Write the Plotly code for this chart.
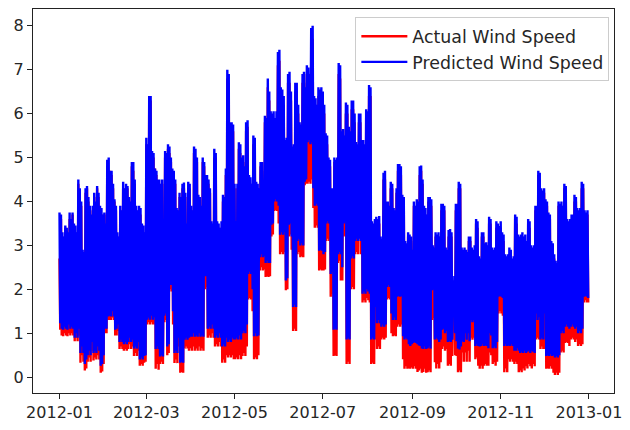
import pandas as pd
import plotly.graph_objects as go

# Daily maxima / minima (one row per month, 2012)
pred_hi = [
    3.75,3.7,3.3,3.2,3.45,3.4,3.3,3.75,3.6,3.75,3.5,3.45,3.3,4.5,4.3,4.0,2.9,2.85,4.3,4.35,4.1,3.9,3.7,3.9,4.2,4.0,4.35,4.2,3.9,3.85,3.7,
    3.75,3.5,4.95,5.0,4.7,4.7,4.4,4.05,3.9,3.3,3.2,3.9,3.8,4.45,4.3,4.4,4.35,4.1,4.0,4.9,4.9,4.5,3.9,3.8,3.9,3.85,3.5,3.45,3.3,
    5.45,5.3,6.4,6.4,5.15,5.1,4.75,4.7,4.5,4.5,4.4,4.5,3.25,5.15,5.1,5.3,5.25,5.0,4.75,4.7,4.5,3.85,3.8,4.2,4.1,4.4,4.43,4.2,3.5,4.45,4.4,
    3.9,3.8,5.25,5.2,5.0,4.15,4.1,3.9,5.0,4.9,4.6,4.6,4.5,4.3,3.55,3.5,5.2,5.1,3.55,3.5,3.4,3.55,4.15,4.1,4.75,7.0,6.9,5.8,5.8,5.75,
    4.4,3.55,4.4,5.35,5.3,5.0,5.05,4.8,5.8,5.85,4.6,4.55,4.4,5.5,5.45,4.45,4.4,4.3,4.9,4.9,4.3,5.95,5.9,6.8,6.5,6.05,6.0,6.05,5.9,6.05,7.4,
    7.45,6.6,6.55,6.4,5.4,5.45,6.9,6.95,6.5,5.25,5.3,6.7,6.7,6.2,5.8,5.75,6.9,6.95,6.6,7.1,7.05,6.9,7.95,8.0,6.4,6.35,6.2,6.6,6.55,6.6,
    6.5,6.2,5.55,5.5,5.0,4.95,4.3,4.3,5.0,4.95,5.0,7.15,7.1,5.6,5.65,5.5,6.25,6.2,5.7,5.6,6.3,6.3,6.0,5.35,5.3,6.0,6.0,5.4,5.4,5.3,6.1,
    6.05,6.65,6.6,3.55,3.5,3.6,3.65,3.6,3.67,3.2,3.15,4.65,4.7,4.0,4.0,3.9,4.45,4.4,3.85,3.8,4.3,4.85,4.85,4.8,4.15,4.1,3.1,3.05,3.3,3.25,3.2,
    2.9,4.0,3.9,4.05,4.0,4.8,4.82,4.5,3.9,3.85,3.7,4.1,4.1,4.05,3.0,2.95,3.3,3.25,3.3,3.2,3.95,3.95,3.9,2.95,2.9,3.35,3.37,3.3,2.2,2.3,
    3.95,3.95,4.45,4.4,2.95,2.9,2.95,2.9,2.85,3.2,3.2,2.95,2.9,3.0,3.6,3.55,2.75,2.7,3.3,3.3,3.05,3.07,3.0,3.65,3.6,2.95,2.9,2.95,3.55,3.5,3.44,
    3.55,3.3,3.25,2.8,2.75,2.8,2.95,2.9,2.7,2.75,3.7,3.65,3.25,3.2,3.25,3.3,3.2,3.25,3.1,3.6,3.55,3.0,2.95,3.0,3.9,3.9,4.7,4.65,4.3,4.25,
    4.3,4.05,4.0,3.75,3.7,3.1,3.05,2.8,2.65,2.6,4.0,3.95,4.0,3.9,4.4,4.35,3.6,3.55,3.6,3.7,3.7,4.15,4.1,3.85,3.8,3.85,4.45,4.4,3.8,3.75,3.8,
]
pred_lo = [
    1.23,1.1,1.08,1.15,1.1,1.08,1.2,1.1,1.15,1.1,0.9,1.0,0.9,1.1,0.55,0.7,0.55,0.3,0.4,0.5,0.6,0.5,0.8,0.55,0.6,0.55,0.7,0.6,0.26,0.3,0.5,
    1.1,1.1,1.38,1.4,1.38,1.5,1.38,1.08,1.1,1.2,0.8,0.85,0.8,0.75,0.8,0.75,0.8,0.9,0.8,0.85,0.65,0.7,0.65,0.8,0.4,0.45,0.4,0.48,0.5,
    1.31,1.35,1.31,1.4,1.31,1.35,0.64,0.7,0.64,0.47,0.5,0.47,1.4,1.45,0.7,0.75,2.1,2.1,1.5,0.55,0.6,0.55,0.9,0.33,0.35,0.33,0.85,0.9,0.85,0.9,0.92,
    0.92,1.0,0.92,0.95,0.92,1.0,0.92,0.95,0.92,2.3,2.3,1.1,1.15,1.1,1.2,1.1,0.9,0.95,0.9,1.0,0.9,0.7,0.75,0.7,0.9,0.8,0.85,0.8,0.9,0.86,
    0.86,0.9,0.86,0.95,0.86,1.0,1.05,1.0,1.2,2.35,2.4,2.35,2.0,0.93,1.0,0.93,0.95,2.73,2.8,2.73,2.75,2.6,2.65,2.6,2.6,3.47,3.5,4.0,4.05,4.0,3.9,
    3.24,3.3,3.24,3.3,2.2,2.25,3.47,3.5,3.2,1.6,1.65,1.6,3.1,3.15,3.0,3.05,3.0,4.45,4.5,5.35,5.4,5.3,5.35,4.3,3.9,3.95,3.9,2.88,2.9,2.88,
    2.8,2.85,3.5,3.55,3.5,2.35,2.4,1.08,1.1,1.08,2.8,2.85,2.8,2.5,3.5,3.55,0.86,0.9,0.86,2.7,2.75,2.7,3.1,3.15,3.1,3.15,3.1,1.9,1.95,1.9,2.0,
    1.95,1.9,0.86,0.9,0.86,1.6,1.23,1.3,1.23,1.15,1.2,1.15,1.2,2.05,2.1,2.05,1.45,1.3,1.35,1.3,1.83,1.85,1.83,1.85,0.93,0.86,0.9,0.86,0.75,0.71,0.75,
    0.78,0.8,0.78,0.75,0.72,0.71,0.65,0.64,0.7,0.64,0.66,0.7,0.65,1.98,2.0,0.86,0.9,0.86,0.8,0.86,1.08,1.1,1.0,1.05,0.8,0.82,0.8,0.85,1.6,1.0,
    0.82,0.65,0.63,0.7,0.82,0.8,1.0,0.85,1.0,0.82,1.3,1.25,1.3,0.71,0.75,0.71,0.7,0.71,0.75,0.71,0.72,0.71,0.66,1.0,0.95,0.66,0.7,0.66,0.8,1.83,1.85,
    1.83,1.8,0.71,0.75,0.71,0.72,0.71,0.75,0.71,0.6,0.6,0.65,0.6,0.55,0.58,0.55,0.6,0.55,0.58,0.6,0.55,0.6,0.58,0.55,1.45,1.3,1.35,0.86,0.9,0.86,
    1.45,0.48,0.5,0.48,0.52,0.48,0.5,0.45,0.48,0.45,0.5,1.0,1.05,1.0,1.15,1.2,1.15,1.1,1.15,1.2,1.15,1.1,1.15,1.0,1.05,1.0,1.1,1.83,1.85,1.83,1.8,
]
act_hi = [
    2.7,3.6,3.2,3.1,3.4,3.3,3.2,3.6,3.5,3.7,3.4,3.3,3.2,4.4,4.2,3.9,2.8,2.7,4.2,4.3,4.0,3.8,3.6,3.8,4.1,3.9,4.3,4.1,3.8,3.7,3.6,
    3.7,3.4,4.8,4.7,4.7,4.6,4.3,4.0,3.8,3.2,3.1,3.8,3.7,4.3,4.2,4.3,4.3,4.0,3.9,4.8,4.7,4.4,3.8,3.7,3.8,3.7,3.4,3.3,3.2,
    5.3,5.2,6.2,6.3,5.0,5.0,4.75,4.6,4.4,4.4,4.3,4.4,3.1,5.0,5.0,5.2,5.1,4.9,4.6,4.6,4.4,3.7,3.7,4.1,4.0,4.3,4.3,4.1,3.4,4.3,4.3,
    3.8,3.7,5.1,5.0,4.9,4.0,4.0,3.8,4.9,4.8,4.5,4.5,4.4,4.2,3.4,3.4,5.0,5.0,3.4,3.4,3.3,3.4,4.0,4.0,4.6,6.8,6.7,5.7,5.6,5.6,
    4.3,3.4,4.3,5.2,5.1,4.9,4.9,4.7,5.6,5.7,4.5,4.4,4.3,5.3,5.3,4.3,4.3,4.2,4.8,4.7,4.2,5.8,5.7,6.6,6.3,5.9,5.8,5.9,5.7,5.9,7.1,
    7.2,6.4,6.3,6.2,5.3,5.3,6.7,6.7,6.3,5.1,5.2,6.5,6.5,6.0,5.6,5.6,6.7,6.7,6.4,6.9,6.8,6.7,7.0,7.7,6.2,6.2,6.0,6.4,6.3,6.4,
    6.3,6.0,5.4,5.3,4.9,4.8,4.2,4.2,4.9,4.8,4.9,6.9,6.8,5.5,5.5,5.3,6.0,6.0,5.5,5.4,6.1,6.1,5.8,5.2,5.1,5.8,5.8,5.3,5.2,5.1,5.9,
    5.9,6.4,6.4,3.4,3.4,3.5,3.5,3.5,3.5,3.1,3.0,4.5,4.5,3.9,3.9,3.8,4.3,4.3,3.7,3.7,4.2,4.7,4.7,4.6,4.0,4.0,3.0,2.9,3.2,3.1,3.1,
    2.8,3.9,3.8,3.9,3.9,4.6,4.7,4.4,3.8,3.7,3.6,4.0,4.0,3.9,2.9,2.8,3.2,3.1,3.2,3.1,3.8,3.8,3.8,2.8,2.8,3.2,3.2,3.2,2.1,2.2,
    3.8,3.8,4.3,4.3,2.8,2.8,2.8,2.8,2.7,3.1,3.1,2.8,2.8,2.9,3.5,3.4,2.6,2.6,3.2,3.2,2.9,3.0,2.9,3.5,3.5,2.8,2.8,2.8,3.4,3.4,3.3,
    3.4,3.2,3.1,2.7,2.6,2.7,2.8,2.8,2.6,2.6,3.6,3.5,3.1,3.1,3.1,3.2,3.1,3.1,3.0,3.5,3.4,2.9,2.8,2.9,3.8,3.8,4.6,4.5,4.2,4.1,
    4.2,3.9,3.9,3.6,3.6,3.0,2.9,2.7,2.5,2.5,3.9,3.8,3.9,3.8,4.3,4.2,3.5,3.4,3.5,3.6,3.6,4.0,4.0,3.7,3.7,3.7,4.3,4.3,3.7,3.6,3.7,
]
act_lo = [
    1.08,0.95,0.93,1.0,0.95,0.93,1.0,0.95,1.0,0.95,0.82,0.9,0.82,0.95,0.33,0.5,0.35,0.15,0.2,0.35,0.45,0.35,0.6,0.38,0.45,0.4,0.5,0.4,0.1,0.13,0.3,
    1.0,1.0,1.3,1.3,1.3,1.35,1.3,0.95,0.95,1.05,0.64,0.7,0.64,0.6,0.64,0.6,0.64,0.75,0.64,0.7,0.48,0.55,0.48,0.6,0.26,0.3,0.26,0.33,0.35,
    1.2,1.25,1.2,1.25,1.2,1.2,0.19,0.3,0.17,0.3,0.35,0.3,1.25,1.3,0.5,0.55,2.0,1.95,1.2,0.32,0.4,0.32,0.7,0.1,0.12,0.1,0.65,0.7,0.65,0.6,0.65,
    0.6,0.7,0.6,0.65,0.6,0.7,0.6,0.65,0.6,2.0,2.05,0.9,0.95,0.9,1.0,0.9,0.7,0.75,0.7,0.8,0.7,0.33,0.4,0.33,0.5,0.45,0.5,0.45,0.5,0.41,
    0.41,0.45,0.41,0.5,0.41,0.48,0.55,0.48,0.7,1.77,1.8,1.77,1.5,0.41,0.45,0.41,0.5,2.43,2.5,2.43,2.45,2.28,2.3,2.28,2.3,3.2,3.25,3.78,3.8,3.78,3.5,
    2.8,2.85,2.8,2.85,1.98,2.0,3.2,3.25,2.9,1.05,1.1,1.05,2.8,2.85,2.73,2.75,2.73,4.37,4.4,4.4,4.45,4.4,4.5,3.85,3.4,3.45,3.4,2.43,2.45,2.43,
    2.43,2.45,3.1,3.15,3.1,1.83,1.9,0.48,0.5,0.48,2.6,2.65,2.2,2.2,3.2,3.25,0.3,0.35,0.3,2.0,2.05,2.0,2.8,2.85,2.8,3.25,2.8,1.7,1.75,1.7,1.8,
    1.75,1.7,0.3,0.33,0.3,0.86,0.64,0.7,0.64,0.86,0.9,0.86,0.9,1.77,1.8,1.77,1.0,0.93,0.95,0.93,1.15,1.2,1.15,1.2,0.41,0.19,0.25,0.19,0.2,0.19,0.22,
    0.19,0.25,0.19,0.12,0.15,0.19,0.1,0.12,0.19,0.1,0.11,0.15,0.11,1.3,1.35,0.34,0.2,0.3,0.2,0.34,0.64,0.7,0.6,0.64,0.26,0.3,0.26,0.48,1.1,0.5,
    0.48,0.11,0.15,0.11,0.56,0.35,0.56,0.35,0.6,0.35,0.9,0.85,0.9,0.41,0.45,0.26,0.19,0.26,0.19,0.26,0.3,0.26,0.26,0.56,0.5,0.3,0.34,0.26,0.35,1.45,1.5,
    1.45,1.4,0.11,0.2,0.11,0.41,0.35,0.41,0.35,0.3,0.35,0.3,0.11,0.15,0.11,0.2,0.15,0.25,0.2,0.3,0.25,0.2,0.3,0.25,0.86,0.9,0.86,0.64,0.7,0.64,
    0.64,0.19,0.2,0.19,0.25,0.19,0.1,0.05,0.1,0.05,0.1,0.56,0.6,0.56,0.78,0.8,0.78,0.71,0.86,0.9,0.86,0.8,0.86,0.71,0.75,0.71,0.75,1.7,1.75,1.7,1.7,
]
start_date = "2012-01-01"
series_names = ["Actual Wind Speed", "Predicted Wind Speed"]
y_ticks = [0, 1, 2, 3, 4, 5, 6, 7, 8]


def zigzag(hi, lo):
    days = pd.date_range(start_date, periods=len(hi), freq="D")
    xs, ys = [], []
    for d, h, l in zip(days, hi, lo):
        xs += [d, d + pd.Timedelta(hours=12)]
        ys += [h, l]
    return xs, ys


ax, ay = zigzag(act_hi, act_lo)
px, py = zigzag(pred_hi, pred_lo)

fig = go.Figure()
fig.add_trace(go.Scatter(x=ax, y=ay, mode="lines", name=series_names[0],
                         line=dict(color="#ff0000", width=2.4), legendgroup="a"))
fig.add_trace(go.Scatter(x=px, y=py, mode="lines", name=series_names[1],
                         line=dict(color="#0000ff", width=2.4), legendgroup="p"))

axis_common = dict(showline=True, linecolor="#222222", linewidth=1.2, mirror=True,
                   ticks="outside", ticklen=5, tickwidth=1.2, tickcolor="#222222",
                   showgrid=False, zeroline=False,
                   tickfont=dict(family="DejaVu Sans", size=16, color="#262626"))

fig.update_layout(
    width=630, height=430,
    margin=dict(l=33, r=8, t=8, b=33),
    paper_bgcolor="white", plot_bgcolor="white",
    font=dict(family="DejaVu Sans", size=16, color="#262626"),
    showlegend=True,
    legend=dict(x=0.992, xanchor="right", y=0.978, yanchor="top",
                bgcolor="rgba(255,255,255,0.8)", bordercolor="#cccccc", borderwidth=1,
                itemwidth=46, tracegroupgap=0,
                font=dict(family="DejaVu Sans", size=17.4, color="#262626")),
    xaxis=dict(type="date", range=["2011-12-13 16:00", "2013-01-18 08:00"],
               tick0="2012-01-01", dtick="M2", tickformat="%Y-%m", **axis_common),
    yaxis=dict(range=[-0.36, 8.38], tickvals=y_ticks, **axis_common),
)

fig.write_html("out.html")
